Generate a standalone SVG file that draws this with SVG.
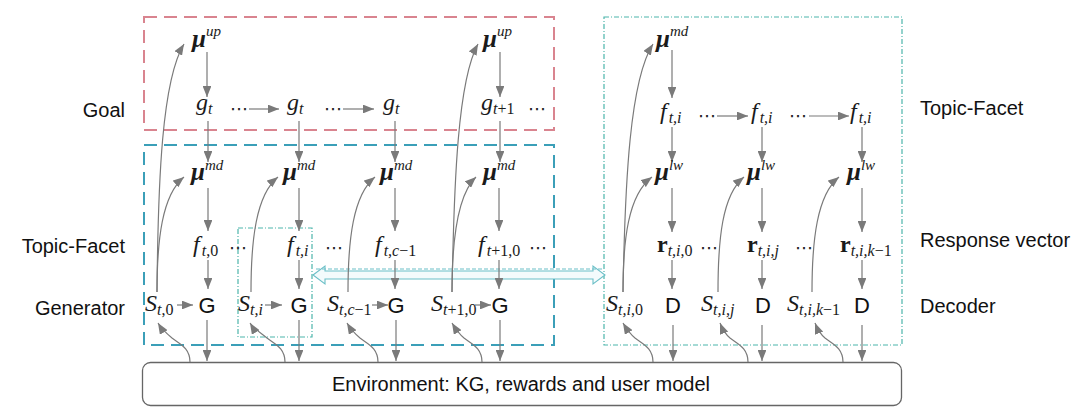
<svg xmlns="http://www.w3.org/2000/svg" width="1080" height="418" viewBox="0 0 1080 418">
<defs>
<marker id="ah" viewBox="0 0 10 8" refX="10" refY="4" markerWidth="11" markerHeight="8.8" markerUnits="userSpaceOnUse" orient="auto"><path d="M0,0 L10,4 L0,8 z" fill="#7a7a7a"/></marker>
</defs>
<style>
.m{font-family:"Liberation Serif","Times New Roman",serif;font-style:italic;font-size:24px;fill:#1a1a1a}
.s{font-size:16px}
.up{font-style:normal}
.mu{font-weight:bold;font-size:25px}
.p{font-size:15px;font-weight:normal}
.r{font-style:normal;font-weight:bold}
.lab{font-family:"Liberation Sans",Arial,sans-serif;font-size:20px;fill:#111}
.gd{font-family:"Liberation Sans",Arial,sans-serif;font-size:22px;fill:#111;text-anchor:middle}
.dots{font-family:"DejaVu Sans",sans-serif;font-size:18px;fill:#222}
.c{fill:none;stroke:#7a7a7a;stroke-width:1.2;marker-end:url(#ah)}
.dd{fill:none;stroke:#4cb5ab;stroke-width:1.2;stroke-dasharray:5 2 1 2}
</style>

<g id="goal-box"><rect x="144" y="17" width="410" height="113" fill="none" stroke="#d9848f" stroke-width="2" stroke-dasharray="13 7"/></g>
<g id="generator-box"><rect x="144" y="145" width="410" height="200" fill="none" stroke="#3b9fb8" stroke-width="2" stroke-dasharray="13 7"/></g>
<g id="inner-box"><rect x="238" y="228" width="74" height="109" class="dd"/></g>
<g id="decoder-box"><rect x="604" y="17" width="298" height="328" class="dd"/></g>
<g id="environment"><rect x="142.5" y="362.5" width="759" height="43" rx="8" fill="#fff" stroke="#666" stroke-width="1.3"/>
<text class="lab" x="521" y="391" text-anchor="middle">Environment: KG, rewards and user model</text></g>

<g id="transfer-arrow">
<path d="M313,275 L325,266 L325,271 L593,271 L593,266 L605,275 L593,284 L593,279 L325,279 L325,284 Z" fill="#f3fbfc" stroke="#6bbfc7" stroke-width="1.1"/>
<line x1="316" y1="269" x2="602" y2="269" stroke="#6bbfc7" stroke-width="1" stroke-dasharray="4 2"/>
</g>

<g id="connectors">
<path class="c" d="M207,52 V97"/>
<path class="c" d="M500,52 V97"/>
<path class="c" d="M208,121 V162"/><path class="c" d="M299,121 V162"/><path class="c" d="M395,121 V162"/><path class="c" d="M500,121 V162"/>
<path class="c" d="M208,188 V231"/><path class="c" d="M299,188 V231"/><path class="c" d="M395,188 V231"/><path class="c" d="M499,188 V231"/>
<path class="c" d="M208,260 V289"/><path class="c" d="M299,260 V289"/><path class="c" d="M395,260 V289"/><path class="c" d="M499,260 V289"/>
<path class="c" d="M207,320 V361"/><path class="c" d="M299,320 V361"/><path class="c" d="M396,320 V361"/><path class="c" d="M500,320 V361"/>
<path class="c" d="M249,109 H279"/><path class="c" d="M343,109 H374"/>
<path class="c" d="M177,305 H193"/><path class="c" d="M265,305 H282"/><path class="c" d="M372,305 H388"/><path class="c" d="M475,305 H491"/>
<path class="c" d="M157,292 C158,180 162,80 184,44"/>
<path class="c" d="M157,292 C157,240 162,195 184,177"/>
<path class="c" d="M251,292 C251,240 256,195 278,177"/>
<path class="c" d="M348,292 C348,240 353,195 375,177"/>
<path class="c" d="M452,292 C452,240 457,195 476,177"/>
<path class="c" d="M452,292 C454,180 458,80 478,44"/>
<path class="c" d="M190,362 C190,348 180,344 172,338 C166,333 161,328 158,323"/>
<path class="c" d="M285,362 C285,348 275,344 267,338 C261,333 253,328 250,323"/>
<path class="c" d="M378,362 C378,348 368,344 360,338 C354,333 350,328 347,323"/>
<path class="c" d="M482,362 C482,348 472,344 464,338 C458,333 455,328 452,323"/>
<path class="c" d="M672,50 V98"/>
<path class="c" d="M672,127 V162"/><path class="c" d="M762,127 V162"/><path class="c" d="M862,127 V162"/>
<path class="c" d="M672,188 V232"/><path class="c" d="M762,188 V232"/><path class="c" d="M862,188 V232"/>
<path class="c" d="M672,260 V289"/><path class="c" d="M762,260 V289"/><path class="c" d="M862,260 V289"/>
<path class="c" d="M673,325 V361"/><path class="c" d="M762,325 V361"/><path class="c" d="M862,325 V361"/>
<path class="c" d="M717,116 H748"/><path class="c" d="M809,116 H849"/>
<path class="c" d="M623,292 C625,180 630,80 653,44"/>
<path class="c" d="M623,292 C623,240 628,195 652,177"/>
<path class="c" d="M718,292 C718,240 722,195 744,177"/>
<path class="c" d="M812,292 C812,240 817,195 839,177"/>
<path class="c" d="M653,362 C653,348 643,344 635,338 C629,333 626,328 623,323"/>
<path class="c" d="M748,362 C748,348 738,344 730,338 C724,333 722,328 720,323"/>
<path class="c" d="M843,362 C843,348 833,344 825,338 C819,333 817,328 815,323"/>
</g>

<g id="labels">
<text class="lab" x="125" y="117" text-anchor="end">Goal</text>
<text class="lab" x="125" y="253" text-anchor="end">Topic-Facet</text>
<text class="lab" x="125" y="315" text-anchor="end">Generator</text>
<text class="lab" x="920" y="115">Topic-Facet</text>
<text class="lab" x="920" y="247">Response vector</text>
<text class="lab" x="920" y="313">Decoder</text>
</g>

<g id="mu-up-1"><text class="m" x="192" y="47"><tspan class="mu">μ</tspan><tspan class="p" dy="-11">up</tspan></text></g>
<g id="mu-up-2"><text class="m" x="483" y="47"><tspan class="mu">μ</tspan><tspan class="p" dy="-11">up</tspan></text></g>
<g id="g-1"><text class="m" x="196" y="110">g<tspan class="s" dy="4">t</tspan></text></g>
<g id="g-2"><text class="m" x="287" y="110">g<tspan class="s" dy="4">t</tspan></text></g>
<g id="g-3"><text class="m" x="383" y="110">g<tspan class="s" dy="4">t</tspan></text></g>
<g id="g-4"><text class="m" x="481" y="110">g<tspan class="s" dy="4">t<tspan class="up">+1</tspan></tspan></text></g>
<g id="dots-g"><text class="dots" x="230" y="115">⋯</text><text class="dots" x="324" y="115">⋯</text><text class="dots" x="528" y="115">⋯</text></g>

<g id="mu-md-1"><text class="m" x="191" y="180"><tspan class="mu">μ</tspan><tspan class="p" dy="-10">md</tspan></text></g>
<g id="mu-md-2"><text class="m" x="283" y="180"><tspan class="mu">μ</tspan><tspan class="p" dy="-10">md</tspan></text></g>
<g id="mu-md-3"><text class="m" x="380" y="180"><tspan class="mu">μ</tspan><tspan class="p" dy="-10">md</tspan></text></g>
<g id="mu-md-4"><text class="m" x="483" y="180"><tspan class="mu">μ</tspan><tspan class="p" dy="-10">md</tspan></text></g>

<g id="f-1"><text class="m" x="193" y="252">f<tspan class="s" dx="2" dy="4">t<tspan class="up">,0</tspan></tspan></text></g>
<g id="f-2"><text class="m" x="287" y="252">f<tspan class="s" dx="2" dy="4">t,i</tspan></text></g>
<g id="f-3"><text class="m" x="375" y="252">f<tspan class="s" dx="2" dy="4">t,c<tspan class="up">−1</tspan></tspan></text></g>
<g id="f-4"><text class="m" x="478" y="252">f<tspan class="s" dx="2" dy="4">t<tspan class="up">+1,0</tspan></tspan></text></g>
<g id="dots-f"><text class="dots" x="229" y="254">⋯</text><text class="dots" x="325" y="254">⋯</text><text class="dots" x="529" y="254">⋯</text></g>

<g id="s-1"><text class="m" x="145" y="311">S<tspan class="s" dy="4">t<tspan class="up">,0</tspan></tspan></text></g>
<g id="s-2"><text class="m" x="238" y="311">S<tspan class="s" dy="4">t,i</tspan></text></g>
<g id="s-3"><text class="m" x="327" y="311">S<tspan class="s" dy="4">t,c<tspan class="up">−1</tspan></tspan></text></g>
<g id="s-4"><text class="m" x="431" y="311">S<tspan class="s" dy="4">t<tspan class="up">+1,0</tspan></tspan></text></g>
<g id="gen-1"><text class="gd" x="207" y="313">G</text></g>
<g id="gen-2"><text class="gd" x="299" y="313">G</text></g>
<g id="gen-3"><text class="gd" x="396" y="313">G</text></g>
<g id="gen-4"><text class="gd" x="500" y="313">G</text></g>

<g id="mu-md-r"><text class="m" x="656" y="47"><tspan class="mu">μ</tspan><tspan class="p" dy="-11">md</tspan></text></g>
<g id="fr-1"><text class="m" x="660" y="119">f<tspan class="s" dx="2" dy="4">t,i</tspan></text></g>
<g id="fr-2"><text class="m" x="751" y="119">f<tspan class="s" dx="2" dy="4">t,i</tspan></text></g>
<g id="fr-3"><text class="m" x="850" y="119">f<tspan class="s" dx="2" dy="4">t,i</tspan></text></g>
<g id="dots-fr"><text class="dots" x="698" y="122">⋯</text><text class="dots" x="789" y="122">⋯</text></g>

<g id="mu-lw-1"><text class="m" x="655" y="180"><tspan class="mu">μ</tspan><tspan class="p" dy="-10">lw</tspan></text></g>
<g id="mu-lw-2"><text class="m" x="747" y="180"><tspan class="mu">μ</tspan><tspan class="p" dy="-10">lw</tspan></text></g>
<g id="mu-lw-3"><text class="m" x="847" y="180"><tspan class="mu">μ</tspan><tspan class="p" dy="-10">lw</tspan></text></g>

<g id="r-1"><text class="m" x="657" y="252"><tspan class="r">r</tspan><tspan class="s" dy="4">t,i<tspan class="up">,0</tspan></tspan></text></g>
<g id="r-2"><text class="m" x="747" y="252"><tspan class="r">r</tspan><tspan class="s" dy="4">t,i,j</tspan></text></g>
<g id="r-3"><text class="m" x="840" y="252"><tspan class="r">r</tspan><tspan class="s" dy="4">t,i,k<tspan class="up">−1</tspan></tspan></text></g>
<g id="dots-r"><text class="dots" x="700" y="254">⋯</text><text class="dots" x="795" y="254">⋯</text></g>

<g id="sr-1"><text class="m" x="606" y="311">S<tspan class="s" dy="4">t,i<tspan class="up">,0</tspan></tspan></text></g>
<g id="sr-2"><text class="m" x="701" y="311">S<tspan class="s" dy="4">t,i,j</tspan></text></g>
<g id="sr-3"><text class="m" x="787" y="311">S<tspan class="s" dy="4">t,i,k<tspan class="up">−1</tspan></tspan></text></g>
<g id="dec-1"><text class="gd" x="673" y="313">D</text></g>
<g id="dec-2"><text class="gd" x="763" y="313">D</text></g>
<g id="dec-3"><text class="gd" x="862" y="313">D</text></g>
</svg>
